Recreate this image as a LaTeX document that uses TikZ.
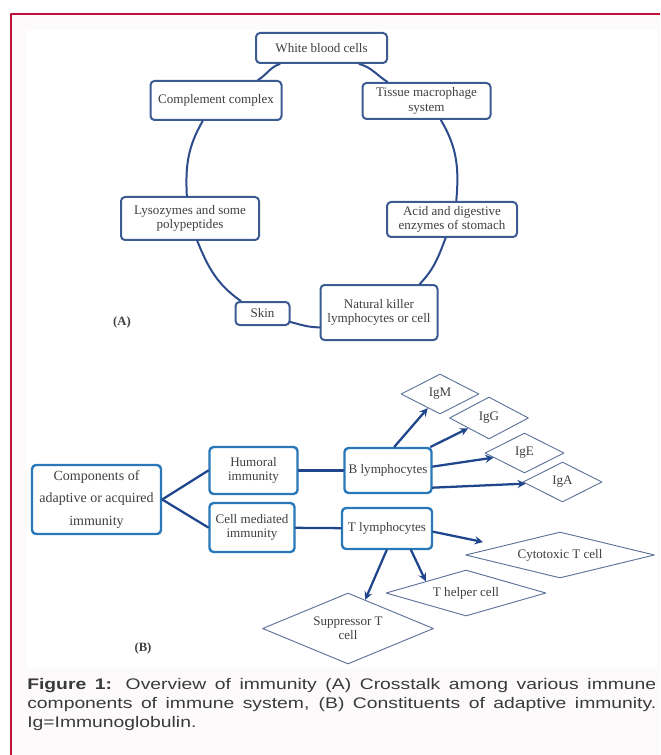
\documentclass[tikz,border=0pt]{standalone}
\usepackage{fontspec}
\setmainfont{Liberation Serif}
\newfontfamily\capfont[FakeStretch=1.26]{Liberation Sans}
\usetikzlibrary{shapes.geometric,calc}
\definecolor{ringblue}{HTML}{3B5B92}
\definecolor{ringlink}{HTML}{2C4C8C}
\definecolor{boxblue}{HTML}{2A78B8}
\definecolor{linkblue}{HTML}{1F468C}
\definecolor{igline}{HTML}{5E7399}
\definecolor{txtgray}{HTML}{404040}
\definecolor{capgray}{HTML}{3A3A3A}
\definecolor{framered}{HTML}{C0103A}
\definecolor{framebg}{HTML}{FCFAFA}
\begin{document}
\begin{tikzpicture}[x=0.75pt, y=0.75pt, line join=round, line cap=round, >=stealth,
		wh/.style 2 args={minimum width=#1*0.75pt, minimum height=#2*0.75pt},
		txt/.style={text=txtgray, font=\fontsize{9.8}{10.8}\selectfont, align=center, inner sep=0pt},
		ringbox/.style={txt, draw=ringblue, line width=1.5pt, rounded corners=3pt, fill=white},
		blockbox/.style={txt, draw=boxblue, line width=1.8pt, rounded corners=3pt, fill=white},
		igbox/.style={txt, diamond, draw=igline, line width=0.7pt},
		link/.style={draw=linkblue, line width=1.7pt},
		arrowlink/.style={link, ->}]
	\useasboundingbox (0,0) rectangle (660,-755);
	\fill[framebg] (11,-14) rectangle (660,-755);
	\fill[white] (27,-30) rectangle (657,-668);
	\draw[framered, line width=1.2pt, line cap=butt] (11,-755) -- (11,-14) -- (660,-14);
	
	\node[ringbox, wh={131}{30}] (wbc) at (321.5,-48) {White blood cells};
	\node[ringbox, wh={131}{39}] (cc) at (216,-100.5) {Complement complex};
	\node[ringbox, wh={128}{36}] (tms) at (426.5,-101) {Tissue macrophage\\system};
	\node[ringbox, wh={138}{43}] (lys) at (190,-218.5) {Lysozymes and some\\polypeptides};
	\node[ringbox, wh={130}{35}] (acid) at (452,-219.5) {Acid and digestive\\enzymes of stomach};
	\node[ringbox, wh={54}{23}] (skin) at (262.5,-313.5) {Skin};
	\node[ringbox, wh={117}{55}] (nk) at (379,-312.5) {Natural killer\\lymphocytes or cell};
	\foreach \a/\b/\o/\i in {wbc.201/cc.26/198/31, cc.237/lys.98/240/93, lys.288/skin.150/292/145,
		skin.343/nk.194/346/180, nk.35/acid.251/46/249, acid.77/tms.307/85/301, tms.154/wbc.337/148/345}
		\draw[link, draw=ringlink, line width=1.5pt] (\a) to[out=\o, in=\i] (\b);
	\node[txt, font=\bfseries\fontsize{9.5}{10}\selectfont] (labA) at (122,-322) {(A)};
	
	\node[blockbox, wh={129}{69}, font=\fontsize{10.5}{17}\selectfont] (comp) at (96.5,-499.5) {Components of\\adaptive or acquired\\immunity};
	\node[blockbox, wh={88}{47}] (hum) at (253.5,-470.5) {Humoral\\immunity};
	\node[blockbox, wh={85}{49}] (cmi) at (252,-527.5) {Cell mediated\\immunity};
	\node[blockbox, wh={87}{45}] (bly) at (388,-470.5) {B lymphocytes};
	\node[blockbox, wh={90}{41}] (tly) at (387,-528.5) {T lymphocytes};
	\node[igbox, wh={78}{40}, aspect=1.95] (igm) at (440,-394) {IgM};
	\node[igbox, wh={79}{42}, aspect=1.88] (igg) at (489,-418) {IgG};
	\node[igbox, wh={79}{40}, aspect=1.97] (ige) at (524.5,-453) {IgE};
	\node[igbox, wh={79}{40}, aspect=1.97] (iga) at (562.5,-482) {IgA};
	\node[igbox, wh={189}{46}, aspect=4.1] (cyto) at (560,-555) {Cytotoxic T cell};
	\node[igbox, wh={160}{46}, aspect=3.48] (th) at (466,-593) {T helper cell};
	\node[igbox, wh={171}{71}, aspect=2.4] (supp) at (348,-628.5) {Suppressor T\\cell};
	\coordinate (cytoin) at (483,-542);
	\draw[link] (comp.east) -- (hum.west);
	\draw[link] (comp.east) -- (cmi.west);
	\draw[link] (hum) -- (bly);
	\draw[link] (cmi) -- (tly);
	\draw[arrowlink] (bly.75) -- (igm);
	\draw[arrowlink] (bly.29) -- (igg);
	\draw[arrowlink] (bly.5) -- (ige);
	\draw[arrowlink] (bly.339) -- (iga);
	\draw[arrowlink] (tly.356) -- (cytoin);
	\draw[arrowlink] (tly.318) -- ($(th.west)!0.5!(th.north)$);
	\draw[arrowlink] (tly.269) -- ($(supp.north)!0.2!(supp.east)$);
	\node[txt, font=\bfseries\fontsize{9.5}{10}\selectfont] (labB) at (143,-648) {(B)};
	
	\node[anchor=north west, inner sep=0pt, text width=471.75pt, align=justify, text=capgray,
		font=\capfont\fontsize{11.5}{14.2}\selectfont] (caption) at (27,-678)
		{\textbf{Figure 1:} Overview of immunity (A) Crosstalk among various immune\linebreak
		components of immune system, (B) Constituents of adaptive immunity.\linebreak
		Ig=Immunoglobulin.};
\end{tikzpicture}
\end{document}
